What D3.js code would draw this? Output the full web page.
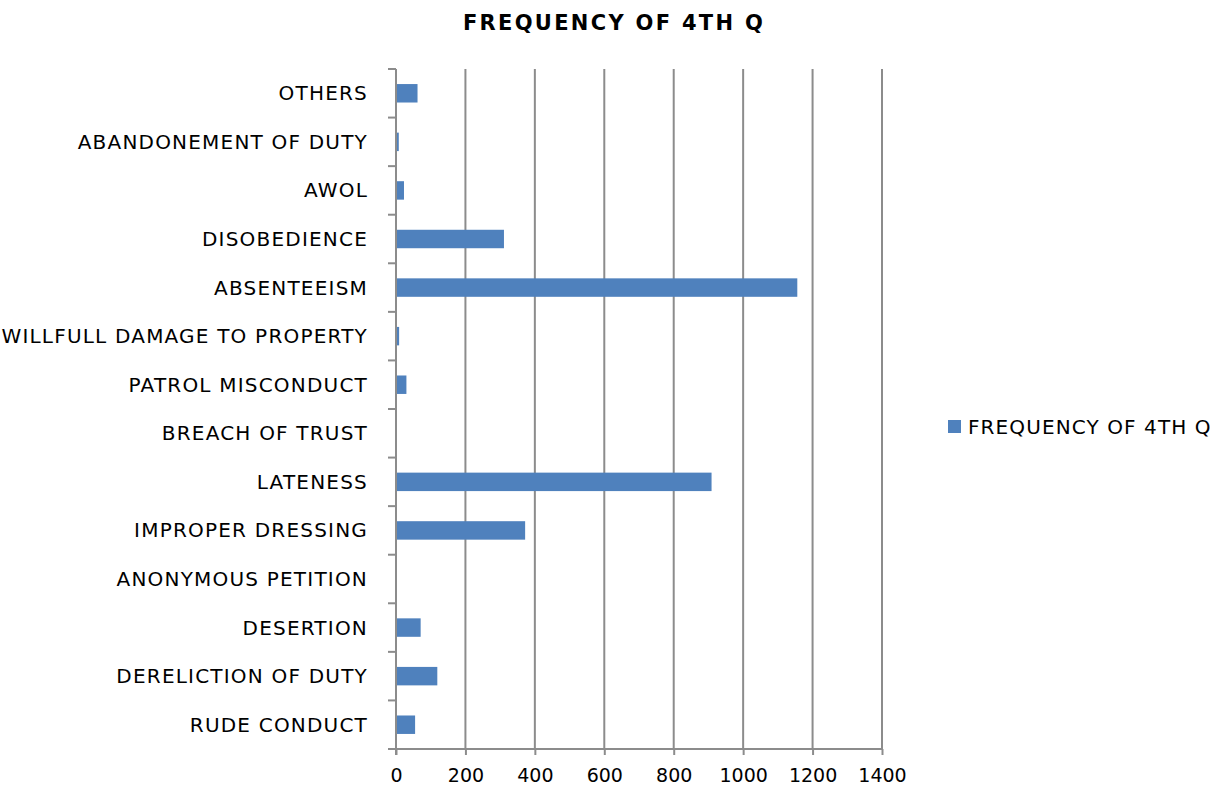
<!DOCTYPE html>
<html>
<head>
<meta charset="utf-8">
<script src="https://cdn.jsdelivr.net/npm/d3@7"></script>
<style>
  html, body { margin: 0; padding: 0; background: #fff; }
  svg text { font-family: "Comic Sans MS", "DejaVu Sans", sans-serif; fill: #000; }
</style>
</head>
<body>
<svg id="chart" width="1224" height="793"></svg>
<script>
const categories = [
  "OTHERS",
  "ABANDONEMENT OF DUTY",
  "AWOL",
  "DISOBEDIENCE",
  "ABSENTEEISM",
  "WILLFULL DAMAGE TO PROPERTY",
  "PATROL MISCONDUCT",
  "BREACH OF TRUST",
  "LATENESS",
  "IMPROPER DRESSING",
  "ANONYMOUS PETITION",
  "DESERTION",
  "DERELICTION OF DUTY",
  "RUDE CONDUCT"
];
const values = [62, 8, 23, 311, 1156, 9, 30, 0, 909, 372, 0, 71, 119, 55];
const xTicks = [0, 200, 400, 600, 800, 1000, 1200, 1400];
const seriesName = "FREQUENCY OF 4TH Q";
const chartTitle = "FREQUENCY OF 4TH Q";

const svg = d3.select("#chart");
const pLeft = 396, pRight = 882, pTop = 69, pBottom = 749;
const gridColor = "#8c8c8c";
const fontFam = "\"Comic Sans MS\", \"DejaVu Sans\", sans-serif";

const x = d3.scaleLinear().domain([0, 1400]).range([pLeft, pRight]);
const y = d3.scaleBand().domain(categories).range([pTop, pBottom]).paddingInner(0.62).paddingOuter(0.31);
const yEdges = d3.scaleLinear().domain([0, categories.length]).range([pTop, pBottom]);

// title
svg.append("text").attr("x", 614).attr("y", 30).attr("text-anchor", "middle")
  .style("font-size", "21px").style("font-weight", "bold").style("letter-spacing", "2.3px").text(chartTitle);

// vertical gridlines
svg.append("g").selectAll("line").data(xTicks.slice(1)).join("line")
  .attr("x1", d => x(d)).attr("x2", d => x(d))
  .attr("y1", pTop).attr("y2", pBottom)
  .attr("stroke", gridColor).attr("stroke-width", 2);

// bars
svg.append("g").selectAll("rect").data(categories).join("rect")
  .attr("x", x(0))
  .attr("y", d => y(d))
  .attr("width", (d, i) => x(values[i]) - x(0))
  .attr("height", y.bandwidth())
  .attr("fill", "#4F81BD");

// x axis
const xAxis = d3.axisBottom(x).tickValues(xTicks).tickFormat(d3.format("d"))
  .tickSize(6).tickPadding(14).tickSizeOuter(0);
const gx = svg.append("g").attr("transform", `translate(0,${pBottom})`).call(xAxis);
gx.select(".domain").attr("stroke", gridColor).attr("stroke-width", 2)
  .attr("d", `M${pLeft - 8},0H${pRight}`);
gx.selectAll(".tick line").attr("stroke", gridColor).attr("stroke-width", 2);
gx.selectAll(".tick text").style("font-size", "19px").style("font-family", fontFam).attr("fill", "#000");

// y axis line
svg.append("line").attr("x1", pLeft).attr("x2", pLeft).attr("y1", pTop).attr("y2", pBottom + 6)
  .attr("stroke", gridColor).attr("stroke-width", 2);
// y ticks at category boundaries
svg.append("g").selectAll("line").data(d3.range(categories.length + 1)).join("line")
  .attr("x1", pLeft - 8).attr("x2", pLeft)
  .attr("y1", d => yEdges(d)).attr("y2", d => yEdges(d))
  .attr("stroke", gridColor).attr("stroke-width", 2);

// category labels
svg.append("g").selectAll("text").data(categories).join("text")
  .attr("x", 368).attr("y", d => y(d) + y.bandwidth() / 2)
  .attr("dy", "0.35em").attr("text-anchor", "end")
  .style("font-size", "20px").style("letter-spacing", "1.2px").text(d => d);

// legend
svg.append("rect").attr("x", 948).attr("y", 420).attr("width", 13).attr("height", 13).attr("fill", "#4F81BD");
svg.append("text").attr("x", 968).attr("y", 427).attr("dy", "0.35em")
  .style("font-size", "20px").style("letter-spacing", "1.1px").text(seriesName);
</script>
</body>
</html>
